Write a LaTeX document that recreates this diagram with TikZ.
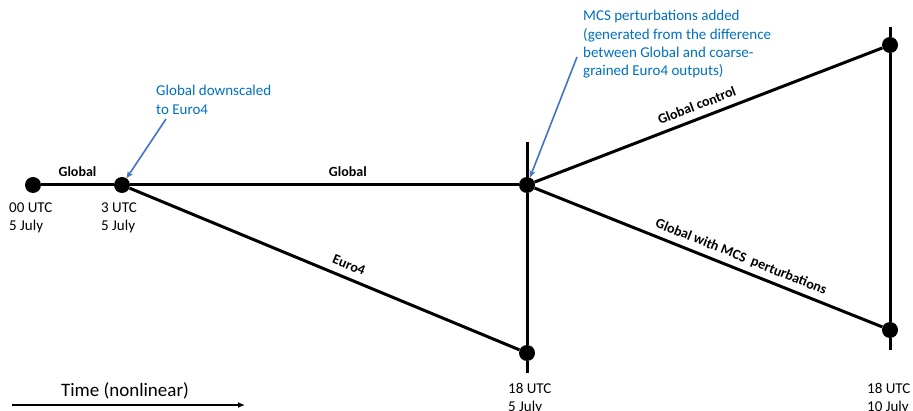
\documentclass[tikz,border=0pt]{standalone}
\usepackage{fontspec}
\setmainfont{Carlito}
\usetikzlibrary{arrows.meta}
\definecolor{noteblue}{RGB}{0,112,192}
\definecolor{arrowblue}{RGB}{68,114,196}

\begin{document}
\begin{tikzpicture}[x=1pt,y=-1pt,
    dot/.style={circle,fill=black,inner sep=0pt,minimum size=16pt},
    tline/.style={line width=3pt},
    runlbl/.style={font=\fontsize{14}{17}\selectfont\bfseries,sloped,above,inner sep=3.5pt,text depth=3.5pt},
    timelbl/.style={anchor=north west,inner sep=0pt,align=left,font=\fontsize{15}{18}\selectfont},
    note/.style={anchor=north west,inner sep=0pt,align=left,text=noteblue,font=\fontsize{15}{18.4}\selectfont},
    notearrow/.style={draw=arrowblue,line width=1.6pt,-{Stealth[length=7pt,width=6pt]}}]
  \useasboundingbox (0,0) rectangle (913,411);

  % Time points
  \node[dot] (t0) at (33,185) {};
  \node[dot] (t3) at (122,185) {};
  \node[dot] (split) at (527,185) {};
  \node[dot] (end5) at (527,353) {};
  \node[dot] (ctl) at (890,45) {};
  \node[dot] (pert) at (890,330) {};

  % Ends of the vertical markers
  \coordinate (v1top) at (527,142);
  \coordinate (v1bot) at (527,373);
  \coordinate (v2top) at (890,27);
  \coordinate (v2bot) at (890,350);

  % Vertical markers
  \draw[tline] (v1top) -- (split) -- (end5) -- (v1bot);
  \draw[tline] (v2top) -- (ctl) -- (pert) -- (v2bot);

  % Runs
  \draw[tline] (t0) -- node[runlbl,pos=0.5] {Global} (t3);
  \draw[tline] (t3) -- node[runlbl,pos=0.56] {Global} (split);
  \draw[tline] (t3) -- node[runlbl,pos=0.55] {Euro4} (end5);
  \draw[tline] (split) -- node[runlbl,pos=0.48] {Global control} (ctl);
  \draw[tline] (split) -- node[runlbl,pos=0.58] {Global with MCS\ \ perturbations} (pert);

  % Time labels
  \node[timelbl] (lab0) at (9,203) {00 UTC\\5 July};
  \node[timelbl] (lab3) at (101,203) {3 UTC\\5 July};
  \node[timelbl] (lab5) at (508,383) {18 UTC\\5 July};
  \node[timelbl] (lab10) at (867,383) {18 UTC\\10 July};

  % Notes
  \node[note] (down) at (156,85) {Global downscaled\\to Euro4};
  \node[note] (mcs) at (583,10) {MCS perturbations added\\(generated from the difference\\between Global and coarse-\\grained Euro4 outputs)};
  \coordinate (downfoot) at (166,119);
  \coordinate (mcsfoot) at (577,57);
  \draw[notearrow] (downfoot) -- (t3);
  \draw[notearrow] (mcsfoot) -- (split);

  % Time axis
  \coordinate (tstart) at (12,405);
  \coordinate (tend) at (245,405);
  \draw[line width=1.5pt,-{Latex[length=7pt,width=6pt]}] (tstart) -- (tend);
  \node[anchor=base,inner sep=0pt,font=\fontsize{19}{23}\selectfont] (timetxt) at (125,397) {Time (nonlinear)};
\end{tikzpicture}
\end{document}
